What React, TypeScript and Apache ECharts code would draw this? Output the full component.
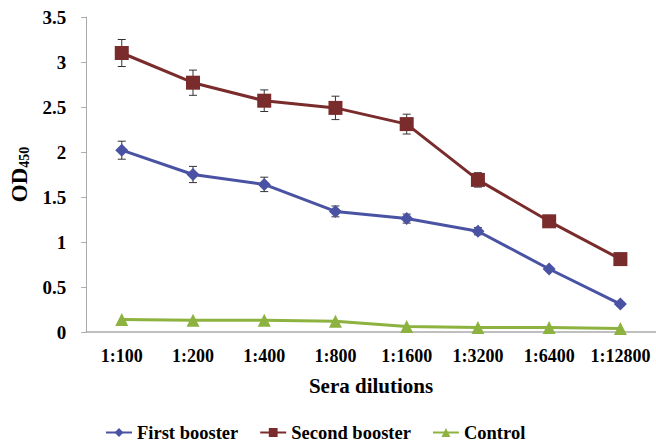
import React, { useEffect, useRef } from "react";
import * as echarts from "echarts";

const categories = ["1:100", "1:200", "1:400", "1:800", "1:1600", "1:3200", "1:6400", "1:12800"];
const firstBooster = [2.02, 1.75, 1.64, 1.34, 1.26, 1.12, 0.7, 0.31];
const firstBoosterErr = [0.1, 0.09, 0.08, 0.06, 0.05, 0.04, 0.02, 0.02];
const secondBooster = [3.1, 2.77, 2.57, 2.49, 2.31, 1.69, 1.23, 0.81];
const secondBoosterErr = [0.15, 0.14, 0.12, 0.13, 0.11, 0.08, 0.03, 0.03];
const control = [0.14, 0.13, 0.13, 0.12, 0.06, 0.05, 0.05, 0.04];

const FONT = "Liberation Serif";

function errData(vals: number[], errs: number[]) {
  return vals.map((v, i) => [i, v - errs[i], v + errs[i]]);
}

const errorSeries = (name: string, vals: number[], errs: number[]) => ({
  type: "custom",
  name: name + "-err",
  z: 1,
  silent: true,
  data: errData(vals, errs),
  renderItem: (params: any, api: any) => {
    const x = api.value(0);
    const lo = api.coord([x, api.value(1)]);
    const hi = api.coord([x, api.value(2)]);
    const w = 4;
    const style = { stroke: "#333", lineWidth: 1 };
    return {
      type: "group",
      children: [
        { type: "line", shape: { x1: lo[0], y1: lo[1], x2: hi[0], y2: hi[1] }, style },
        { type: "line", shape: { x1: hi[0] - w, y1: hi[1], x2: hi[0] + w, y2: hi[1] }, style },
        { type: "line", shape: { x1: lo[0] - w, y1: lo[1], x2: lo[0] + w, y2: lo[1] }, style },
      ],
    };
  },
});

export default function App() {
  const ref = useRef<HTMLDivElement>(null);
  useEffect(() => {
    const chart = echarts.init(ref.current!, null, { renderer: "svg" });
    chart.setOption({
      animation: false,
      backgroundColor: "#ffffff",
      textStyle: { fontFamily: FONT, fontWeight: "bold", color: "#000" },
      grid: { left: 78, right: 0, top: 17, bottom: 110 },
      legend: {
        top: 418,
        left: 100,
        itemGap: 21,
        itemWidth: 26,
        itemHeight: 11,
        textStyle: { fontFamily: FONT, fontWeight: "bold", fontSize: 18.5, color: "#000" },
        data: ["First booster", "Second booster", "Control"],
      },
      xAxis: {
        type: "category",
        data: categories,
        boundaryGap: true,
        axisLine: { lineStyle: { color: "#aaa", width: 1.5 } },
        axisTick: { show: false },
        axisLabel: { fontFamily: FONT, fontWeight: "bold", fontSize: 18, color: "#000", margin: 15, interval: 0 },
        name: "Sera dilutions",
        nameLocation: "middle",
        nameGap: 43,
        nameTextStyle: { fontFamily: FONT, fontWeight: "bold", fontSize: 21, color: "#000" },
      },
      yAxis: {
        type: "value",
        min: 0,
        max: 3.5,
        interval: 0.5,
        splitLine: { show: false },
        axisLine: { show: true, lineStyle: { color: "#aaa", width: 1 } },
        axisTick: { show: true, length: 5, lineStyle: { color: "#aaa" } },
        axisLabel: { fontFamily: FONT, fontWeight: "bold", fontSize: 19, color: "#000", margin: 20 },
        name: "{a|OD}{b|450}",
        nameLocation: "middle",
        nameGap: 52,
        nameRotate: 90,
        nameTextStyle: {
          rich: {
            a: { fontFamily: FONT, fontWeight: "bold", fontSize: 23, color: "#000" },
            b: { fontFamily: FONT, fontWeight: "bold", fontSize: 14, color: "#000", padding: [10, 0, 0, 0] },
          },
        },
      },
      series: [
        errorSeries("First booster", firstBooster, firstBoosterErr),
        errorSeries("Second booster", secondBooster, secondBoosterErr),
        {
          name: "First booster",
          type: "line",
          z: 3,
          data: firstBooster,
          symbol: "diamond",
          symbolSize: 13,
          lineStyle: { width: 3, color: "#4A53A3" },
          itemStyle: { color: "#4A53A3" },
        },
        {
          name: "Second booster",
          type: "line",
          z: 3,
          data: secondBooster,
          symbol: "rect",
          symbolSize: 14,
          lineStyle: { width: 3, color: "#7A2B2B" },
          itemStyle: { color: "#7A2B2B" },
        },
        {
          name: "Control",
          type: "line",
          z: 3,
          data: control,
          symbol: "triangle",
          symbolSize: 13,
          lineStyle: { width: 3, color: "#8DB23F" },
          itemStyle: { color: "#8DB23F" },
        },
      ],
    });
    return () => chart.dispose();
  }, []);
  return <div ref={ref} style={{ position: "fixed", left: 0, top: 0, width: 656, height: 442 }} />;
}
